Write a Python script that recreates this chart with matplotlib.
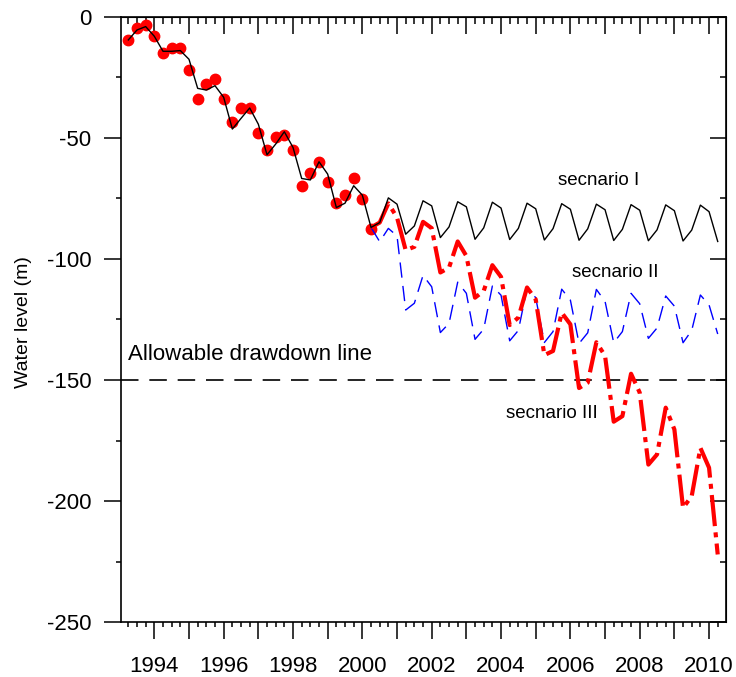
import numpy as np
import matplotlib
matplotlib.use("Agg")
import matplotlib.pyplot as plt
from matplotlib.ticker import MultipleLocator, FuncFormatter

plt.rcParams['font.family'] = ['Liberation Sans', 'DejaVu Sans']
plt.rcParams['axes.unicode_minus'] = False

# quarterly time axis
t_hist = np.arange(1993.25, 2000.26, 0.25)
t_pred = np.arange(2000.25, 2010.26, 0.25)

observed = [-9.6, -4.8, -3.4, -7.9, -14.9, -12.8, -12.8, -22.0,
            -34.0, -27.8, -25.9, -34.0, -43.6, -37.8, -37.8, -47.9,
            -55.0, -49.8, -48.8, -55.0, -69.9, -64.6, -59.9, -68.1,
            -77.0, -73.6, -66.7, -75.3, -87.8]

simulated = [-9.6, -5.5, -4.1, -8.1, -14.3, -14.3, -14.0, -17.6,
             -29.6, -30.3, -28.5, -33.3, -46.4, -42.0, -37.7, -44.4,
             -57.0, -52.6, -47.5, -54.0, -66.8, -67.4, -59.9, -65.0,
             -78.8, -77.0, -69.8, -73.7, -87.0]

scenario_1 = [-87.0, -85.0, -74.8, -77.4,
              -89.8, -86.4, -76.0, -78.1,
              -91.2, -86.8, -76.4, -78.5,
              -91.9, -87.2, -76.6, -79.0,
              -92.0, -87.4, -77.0, -79.3,
              -92.2, -87.5, -77.2, -79.5,
              -92.3, -87.6, -77.4, -79.7,
              -92.4, -87.8, -77.6, -79.9,
              -92.5, -88.0, -77.7, -80.1,
              -92.6, -88.1, -77.8, -80.5,
              -92.8]

scenario_2 = [-87.0, -92.9, -87.4, -90.5,
              -121.1, -118.3, -106.8, -111.5,
              -130.4, -126.6, -109.6, -114.2,
              -133.2, -129.0, -111.2, -115.0,
              -133.8, -129.5, -112.1, -116.0,
              -134.5, -130.0, -112.5, -117.0,
              -134.9, -130.5, -112.6, -117.5,
              -134.6, -130.0, -114.2, -118.5,
              -132.8, -128.5, -115.3, -119.5,
              -134.6, -129.5, -114.9, -119.0,
              -131.0]

scenario_3 = [-87.0, -85.0, -77.1, -82.9,
              -96.4, -95.0, -84.7, -87.3,
              -105.6, -103.6, -92.8, -98.8,
              -116.0, -113.2, -102.6, -107.4,
              -127.3, -124.2, -111.8, -116.7,
              -139.7, -138.0, -122.2, -127.0,
              -153.3, -151.1, -134.4, -140.0,
              -167.2, -164.9, -147.4, -155.2,
              -184.9, -180.7, -161.4, -170.4,
              -202.8, -197.9, -178.0, -186.2,
              -222.0]

allowable = -150

fig = plt.figure(figsize=(7.36, 6.77), dpi=100)
ax = fig.add_axes([0.164, 0.0808, 0.822, 0.8946])

ax.plot(t_hist, observed, 'o', color='red', ms=7.5, mec='red', zorder=2)
ax.plot(t_pred, scenario_2, color='blue', lw=1.0, ls=(0, (11, 6)), zorder=3)
ax.plot(t_pred, scenario_3, color='red', lw=3.0, ls=(0, (7.5, 1.5, 1.2, 1.5)), zorder=4)
ax.plot(np.concatenate([t_hist, t_pred[1:]]), simulated + scenario_1[1:],
        color='black', lw=1.0, zorder=5)
ax.axhline(allowable, color='black', lw=1.2, ls=(0, (10.5, 6.5)), zorder=1)

ax.text(1993.24, -141.9, "Allowable drawdown line", fontsize=16, va='baseline')
ax.text(2006.82, -69.5, "secnario I", fontsize=13.5, ha='center', va='baseline')
ax.text(2007.29, -107.3, "secnario II", fontsize=13.5, ha='center', va='baseline')
ax.text(2005.47, -165.8, "secnario III", fontsize=13.5, ha='center', va='baseline')

ax.set_xlim(1993.03, 2010.48)
ax.set_ylim(-250, 0)

ax.xaxis.set_major_locator(MultipleLocator(1))
ax.xaxis.set_minor_locator(MultipleLocator(0.25))
ax.xaxis.set_major_formatter(FuncFormatter(lambda v, p: f"{int(round(v))}" if int(round(v)) % 2 == 0 else ""))
ax.yaxis.set_major_locator(MultipleLocator(50))
ax.yaxis.set_minor_locator(MultipleLocator(25))

for s in ax.spines.values():
    s.set_linewidth(1.2)

ax.tick_params(which='major', direction='out', length=12, width=1.1, labelsize=16, pad=9)
ax.tick_params(axis='x', which='major', pad=12)
ax.tick_params(which='minor', direction='out', length=3.6, width=1.1)

ax.set_ylabel("Water level (m)", fontsize=14)
ax.yaxis.set_label_coords(-0.146, 0.496)

top = ax.secondary_xaxis('top')
top.xaxis.set_major_locator(MultipleLocator(1))
top.xaxis.set_minor_locator(MultipleLocator(0.25))
top.tick_params(which='major', direction='in', length=12, width=1.1, labeltop=False)
top.tick_params(which='minor', direction='in', length=5, width=1.1)

right = ax.secondary_yaxis('right')
right.yaxis.set_major_locator(MultipleLocator(50))
right.yaxis.set_minor_locator(MultipleLocator(25))
right.tick_params(which='major', direction='in', length=11.5, width=1.1, labelright=False)
right.tick_params(which='minor', direction='in', length=4.3, width=1.1)

fig.savefig("out.png", dpi=100)
